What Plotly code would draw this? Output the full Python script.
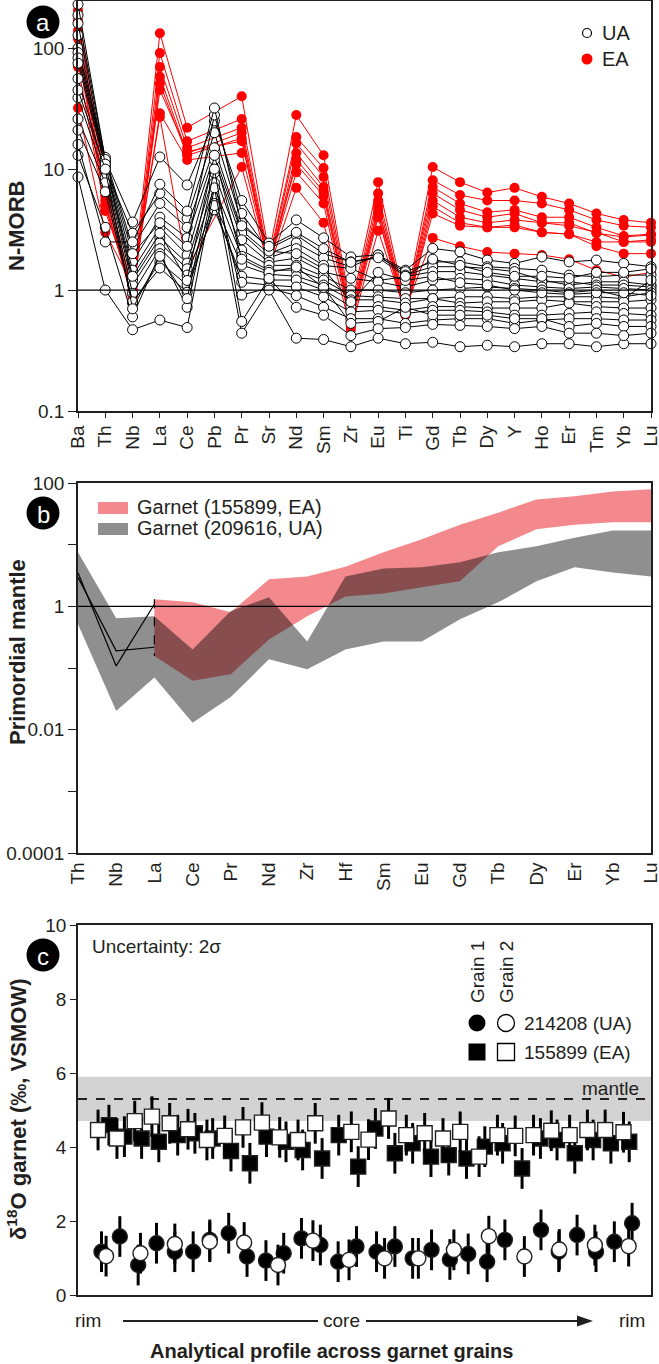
import plotly.graph_objects as go

W, H = 659, 1364
FONT = "Liberation Sans, Arial, sans-serif"

# ---------------- Panel a data (N-MORB normalised) ----------------
elements_a = ['Ba', 'Th', 'Nb', 'La', 'Ce', 'Pb', 'Pr', 'Sr', 'Nd', 'Sm', 'Zr', 'Eu', 'Ti',
              'Gd', 'Tb', 'Dy', 'Y', 'Ho', 'Er', 'Tm', 'Yb', 'Lu']

ea_profiles = [
    [206, 8.0, 1.0, 133, 22, None, 40, 2.0, 28, 13, 0.70, 7.8, 0.75, 10.4, 7.8, 6.4, 7.0, 5.9, 5.2, 4.3, 3.8, 3.6],
    [170, 7.0, 0.9, 91, 17, None, 26, 1.8, 18.4, 10.2, 0.65, 6.3, 0.70, 8.1, 6.1, 5.5, 5.5, 5.2, 4.6, 3.8, 3.4, 3.3],
    [140, 6.0, 0.85, 70, 15, None, 22, 1.7, 16.4, 8.6, 0.60, 5.5, 0.68, 7.1, 5.2, 4.4, 4.6, 4.0, 4.0, 3.3, 2.8, 2.9],
    [120, 5.5, 0.8, 58, 13.5, None, 20, 1.6, 13.6, 7.1, 0.58, 4.9, 0.65, 6.3, 4.6, 4.0, 4.3, 3.6, 3.6, 2.95, 2.75, 2.85],
    [100, 5.0, 0.9, 51, 13, None, 18, 1.55, 12, 6.5, 0.55, 4.3, 0.63, 5.5, 4.0, 3.6, 3.8, 3.6, 3.4, 3.0, 2.5, 2.5],
    [70, 4.5, 1.0, 29, 11.9, None, 13.6, 1.6, 9.4, 5.2, 0.50, 4.0, 0.62, 4.9, 3.6, 3.3, 3.45, 3.0, 2.9, 2.5, 2.5, 2.6],
    [32, 3.0, 1.1, 27, 1.5, None, 10.4, 1.5, 7.0, 3.6, 0.47, 3.1, 0.65, 4.3, 3.4, 3.3, 3.3, 3.0, 2.9, 2.3, 2.0, 2.0],
    [90, 5.0, 0.95, 45, 14, None, 17, 1.7, 11, 6.0, 0.55, 4.6, 0.70, 2.7, 2.3, 2.06, 2.0, 1.95, 1.8, 1.46, 1.28, 1.4],
]

ua_profiles = [
    [188, 12, 3.65, 12.6, 7.4, 25, 5.5, 2.45, 3.8, 2.7, 1.88, 1.95, 1.46, 2.21, 2.07, 1.77, 1.66, 1.88, 1.71, 1.77, 1.66, 1.56],
    [128, 10.2, 2.95, 6.3, 3.9, 20, 3.6, 2.2, 2.85, 2.0, 1.71, 1.88, 1.42, 1.71, 1.71, 1.56, 1.51, 1.46, 1.33, 1.29, 1.33, 1.33],
    [100, 12.5, 2.27, 5.2, 3.3, 15, 3.1, 2.0, 2.45, 1.84, 1.56, 1.95, 1.33, 1.56, 1.56, 1.51, 1.42, 1.21, 1.10, 1.17, 1.17, 1.10],
    [92, 11.5, 1.7, 4.0, 2.7, 13, 2.95, 1.85, 2.2, 1.6, 1.51, 1.2, 1.29, 1.42, 1.42, 1.33, 1.25, 1.17, 1.17, 1.10, 1.10, 1.06],
    [83, 11, 1.46, 3.3, 1.95, 11.9, 2.6, 1.7, 1.84, 1.41, 1.25, 1.17, 1.06, 1.21, 1.25, 1.21, 1.10, 1.06, 1.03, 1.06, 1.03, 1.0],
    [75, 10.5, 1.21, 2.7, 1.67, 9.3, 2.14, 1.6, 1.6, 1.3, 1.0, 1.0, 0.95, 1.0, 1.03, 1.06, 1.03, 1.0, 0.95, 1.0, 0.88, 0.95],
    [56, 9.5, 1.1, 2.45, 1.5, 7.1, 1.9, 1.46, 1.46, 1.21, 0.90, 0.88, 0.85, 0.85, 0.88, 0.88, 0.85, 0.88, 0.88, 0.88, 0.85, 1.21],
    [39, 8.5, 0.94, 2.2, 1.33, 5.2, 1.61, 1.35, 1.3, 1.1, 0.83, 0.83, 0.78, 0.85, 0.78, 0.80, 0.80, 0.83, 0.80, 0.80, 0.80, 0.83],
    [26, 7.7, 0.78, 1.7, 1.1, 4.6, 1.3, 1.21, 1.21, 1.0, 0.73, 0.73, 0.68, 0.73, 0.73, 0.71, 0.71, 0.71, 0.78, 0.73, 0.71, 0.71],
    [21, 6.5, 0.80, 1.52, 0.96, 5.0, 1.16, 1.1, 1.06, 0.88, 0.66, 0.68, 0.64, 0.68, 0.68, 0.66, 0.62, 0.62, 0.64, 0.66, 0.64, 0.62],
    [13, 3.3, 0.60, 2.0, 0.72, 7.7, 0.91, 1.04, 0.90, 0.72, 0.58, 0.58, 0.53, 0.565, 0.58, 0.58, 0.53, 0.565, 0.58, 0.58, 0.565, 0.565],
    [8.6, 1.0, 0.47, 0.565, 0.49, 7.0, 0.44, 1.0, 0.40, 0.39, 0.34, 0.40, 0.36, 0.37, 0.34, 0.35, 0.34, 0.36, 0.36, 0.34, 0.36, 0.36],
    [230, 12, 2.0, 3.6, 2.3, 28, 4.3, 2.1, 2.0, 1.5, 0.80, 1.4, 1.2, 1.3, 1.15, 1.1, 1.0, 0.95, 0.92, 0.95, 0.95, 0.90],
    [160, 11, 1.3, 2.95, 1.2, 13, 1.8, 1.4, 1.55, 1.05, 0.53, 0.55, 0.72, 0.62, 0.62, 0.62, 0.58, 0.58, 0.50, 0.53, 0.50, 0.50],
    [45, 10, 0.70, 1.9, 0.85, 10, 0.55, 1.25, 0.72, 0.62, 0.42, 0.48, 0.49, 0.52, 0.51, 0.50, 0.48, 0.50, 0.44, 0.44, 0.42, 0.44],
    [16, 2.5, 2.5, 7.5, 4.5, 32, 3.4, 2.3, 3.0, 2.2, 1.7, 1.85, 1.3, 1.8, 1.6, 1.4, 1.3, 1.3, 1.25, 1.4, 1.4, 1.5],
]

# ---------------- Panel b data (primordial-mantle normalised garnet) ----------------
elements_b = ['Th', 'Nb', 'La', 'Ce', 'Pr', 'Nd', 'Zr', 'Hf', 'Sm', 'Eu', 'Gd', 'Tb', 'Dy', 'Er', 'Yb', 'Lu']
ea_upper = [None, None, 1.30, 1.16, 0.80, 2.74, 3.06, 4.4, 7.5, 12.2, 21, 33, 54, 61, 73, 79]
ea_lower = [None, None, 0.157, 0.062, 0.079, 0.29, 0.69, 1.45, 1.62, 2.03, 2.54, 9.4, 17.7, 21, 23, 23]
ua_upper = [7.5, 0.64, 0.69, 0.20, 0.84, 1.40, 0.27, 3.06, 4.1, 4.3, 5.2, 7.5, 9.4, 13, 17, 17]
ua_lower = [0.51, 0.02, 0.07, 0.013, 0.034, 0.138, 0.095, 0.20, 0.27, 0.27, 0.62, 1.16, 2.54, 4.3, 3.55, 3.06]
whole_rock_1 = [3.5, 0.108, 1.08]
whole_rock_2 = [2.95, 0.19, 0.217]

# ---------------- Panel c data (delta18O profiles, position in % of profile) ----------------
ea_g1_pos = [5.4, 8.1, 11.1, 14.1, 17.4, 20.4, 23.5, 26.7, 30.0, 32.9, 36.3, 39.2, 42.6, 45.5, 48.9,
             51.9, 55.3, 58.4, 61.6, 64.7, 67.8, 71.0, 74.1, 77.5, 80.7, 83.6, 86.7, 89.9, 93.0, 96.2]
ea_g1_d18o = [4.59, 4.28, 4.23, 4.14, 4.32, 4.37, 4.23, 3.89, 3.56, 4.28, 4.14, 3.92, 3.69, 4.32, 3.47,
              4.50, 3.83, 4.10, 3.74, 3.78, 3.69, 4.01, 4.10, 3.42, 4.23, 4.19, 3.83, 4.19, 4.10, 4.14]
ea_g2_pos = [3.5, 6.8, 9.9, 12.9, 16.0, 19.2, 22.5, 25.6, 28.8, 32.1, 35.2, 38.4, 41.4, 47.7, 50.7,
             54.2, 57.3, 60.5, 63.7, 66.7, 70.0, 73.2, 76.3, 79.5, 82.6, 85.8, 88.9, 92.0, 95.2]
ea_g2_d18o = [4.46, 4.23, 4.70, 4.82, 4.64, 4.48, 4.19, 4.30, 4.53, 4.66, 4.26, 4.19, 4.64, 4.41, 4.20,
              4.77, 4.32, 4.37, 4.23, 4.41, 3.74, 4.32, 4.30, 4.32, 4.44, 4.32, 4.46, 4.46, 4.40]
ua_g1_pos = [4.1, 7.3, 10.5, 13.7, 16.9, 20.1, 23.0, 26.3, 29.5, 32.8, 35.9, 39.0, 42.3, 45.4, 48.6,
             52.1, 55.3, 58.4, 61.7, 64.9, 68.1, 71.4, 74.5, 80.8, 83.9, 87.1, 90.4, 93.6, 96.7]
ua_g1_d18o = [1.17, 1.58, 0.81, 1.40, 1.17, 1.17, 1.49, 1.67, 1.04, 0.93, 1.13, 1.53, 1.35, 0.90, 1.31,
              1.17, 1.31, 0.99, 1.22, 0.96, 1.11, 0.90, 1.49, 1.76, 1.17, 1.62, 1.17, 1.44, 1.94]
ua_g2_pos = [4.9, 10.9, 16.9, 23.0, 29.0, 34.9, 41.0, 47.3, 53.5, 59.4, 65.6, 71.7, 77.9, 84.0, 90.2, 96.1]
ua_g2_d18o = [1.05, 1.13, 1.38, 1.44, 1.42, 0.81, 1.47, 0.95, 0.99, 0.99, 1.22, 1.59, 1.04, 1.23, 1.35, 1.32]
err_2sigma = 0.55
mantle_range = [4.7, 5.9]
mantle_mean = 5.3


def px(x):
    return x / W


def py(y):
    return min(1.0, max(0.0, 1 - y / H))


fig = go.Figure()

# ---- panel a ----
xa = list(range(len(elements_a)))
for prof in ea_profiles:
    fig.add_trace(go.Scatter(x=xa, y=prof, mode='lines+markers', connectgaps=True,
                             line=dict(color='#ff0000', width=1),
                             marker=dict(color='#ff0000', size=10),
                             cliponaxis=False, showlegend=False, xaxis='x', yaxis='y'))
for prof in ua_profiles:
    fig.add_trace(go.Scatter(x=xa, y=prof, mode='lines+markers', connectgaps=True,
                             line=dict(color='black', width=1),
                             marker=dict(color='white', size=10, line=dict(color='black', width=1)),
                             cliponaxis=False, showlegend=False, xaxis='x', yaxis='y'))
fig.add_trace(go.Scatter(x=[xa[0], xa[-1]], y=[1, 1], mode='lines', line=dict(color='black', width=1.2),
                         showlegend=False, xaxis='x', yaxis='y'))

# ---- panel b ----
xb = list(range(len(elements_b)))


def band(upper, lower):
    xs, ys = [], []
    for x, v in zip(xb, upper):
        if v is not None:
            xs.append(x); ys.append(v)
    for x, v in reversed(list(zip(xb, lower))):
        if v is not None:
            xs.append(x); ys.append(v)
    return xs, ys


bx, by = band(ea_upper, ea_lower)
fig.add_trace(go.Scatter(x=bx, y=by, fill='toself', fillcolor='rgb(243,137,140)', mode='lines',
                         line=dict(width=0), showlegend=False, xaxis='x2', yaxis='y2'))
bx, by = band(ua_upper, ua_lower)
fig.add_trace(go.Scatter(x=bx, y=by, fill='toself', fillcolor='rgba(0,0,0,0.44)', mode='lines',
                         line=dict(width=0), showlegend=False, xaxis='x2', yaxis='y2'))
fig.add_trace(go.Scatter(x=xb[:3], y=whole_rock_1, mode='lines', line=dict(color='black', width=1.2),
                         showlegend=False, xaxis='x2', yaxis='y2'))
fig.add_trace(go.Scatter(x=xb[:3], y=whole_rock_2, mode='lines', line=dict(color='black', width=1.2),
                         showlegend=False, xaxis='x2', yaxis='y2'))
fig.add_trace(go.Scatter(x=[xb[2], xb[2]], y=[ea_upper[2], ea_lower[2]], mode='lines',
                         line=dict(color='black', width=1.2, dash='dash'),
                         showlegend=False, xaxis='x2', yaxis='y2'))
fig.add_trace(go.Scatter(x=[xb[0], xb[-1]], y=[1, 1], mode='lines', line=dict(color='black', width=1.2),
                         showlegend=False, xaxis='x2', yaxis='y2'))


# ---- panel c ----
def pts(pos, val, symbol, fill):
    return go.Scatter(x=pos, y=val, mode='markers',
                      error_y=dict(type='constant', value=err_2sigma, color='black', thickness=3, width=0),
                      marker=dict(symbol=symbol, size=15, color=fill, line=dict(color='#231f20', width=1.4)),
                      showlegend=False, xaxis='x3', yaxis='y3', cliponaxis=False)


fig.add_trace(pts(ea_g1_pos, ea_g1_d18o, 'square', 'black'))
fig.add_trace(pts(ea_g2_pos, ea_g2_d18o, 'square', 'white'))
fig.add_trace(pts(ua_g1_pos, ua_g1_d18o, 'circle', 'black'))
fig.add_trace(pts(ua_g2_pos, ua_g2_d18o, 'circle', 'white'))

axis_common = dict(showline=True, mirror=True, linecolor='#231f20', linewidth=1.6, showgrid=False,
                   zeroline=False, tickfont=dict(family=FONT, size=19, color='#231f20'),
                   tickcolor='#231f20', automargin=False, ticklabeloverflow='allow')

fig.update_layout(
    width=W, height=H, margin=dict(l=0, r=0, t=0, b=0),
    paper_bgcolor='white', plot_bgcolor='white', showlegend=False,
    font=dict(family=FONT, color='#231f20'),
    xaxis=dict(domain=[px(78), px(651)], range=[0, 21], tickvals=xa, ticktext=elements_a,
               tickangle=-90, ticks='outside', ticklen=5, anchor='y', **axis_common),
    yaxis=dict(domain=[py(411), py(1)], type='log', range=[-1, 2.39],
               tickvals=[0.1, 1, 10, 100], ticktext=['0.1', '1', '10', '100'],
               ticks='outside', ticklen=8, anchor='x', **axis_common),
    xaxis2=dict(domain=[px(78), px(651)], range=[0, 15], tickvals=xb, ticktext=elements_b,
                tickangle=-90, ticks='', anchor='y2', **axis_common),
    yaxis2=dict(domain=[py(853), py(483)], type='log', range=[-4, 2],
                tickvals=[1e-4, 1e-2, 1, 100], ticktext=['0.0001', '0.01', '1', '100'],
                ticks='outside', ticklen=8, anchor='x2',
                minor=dict(tickvals=[1e-3, 1e-1, 10], ticks='outside', ticklen=8, tickcolor='#231f20'),
                **axis_common),
    xaxis3=dict(domain=[px(78), px(651)], range=[0, 100], showticklabels=False, ticks='',
                anchor='y3', **axis_common),
    yaxis3=dict(domain=[py(1295), py(925)], range=[0, 10], tickvals=[0, 2, 4, 6, 8, 10],
                ticks='outside', ticklen=6, anchor='x3', **axis_common),
)

shapes = []
annos = []

# mantle band and mean
shapes.append(dict(type='rect', xref='x3 domain', yref='y3', x0=0, x1=1, y0=mantle_range[0],
                   y1=mantle_range[1], fillcolor='rgb(211,211,211)', line=dict(width=0), layer='below'))
shapes.append(dict(type='line', xref='x3 domain', yref='y3', x0=0, x1=1, y0=mantle_mean, y1=mantle_mean,
                   line=dict(color='#231f20', width=2, dash='dash'), layer='below'))
annos.append(dict(text='mantle', xref='paper', yref='paper', x=px(641), y=py(1088), xanchor='right',
                  yanchor='middle', showarrow=False, font=dict(size=19, family=FONT)))

# panel labels
for letter, (cx, cy) in zip('abc', [(43, 22), (43, 513), (43, 955)]):
    r = 16.5
    shapes.append(dict(type='circle', xref='paper', yref='paper', x0=px(cx - r), x1=px(cx + r),
                       y0=py(cy + r), y1=py(cy - r), fillcolor='black', line=dict(width=0)))
    annos.append(dict(text=letter, xref='paper', yref='paper', x=px(cx), y=py(cy + 1), showarrow=False,
                      font=dict(size=24, color='white', family=FONT), xanchor='center', yanchor='middle'))

# axis titles
annos.append(dict(text='<b>N-MORB</b>', xref='paper', yref='paper', x=px(17), y=py(226), textangle=-90,
                  showarrow=False, font=dict(size=22, family=FONT), xanchor='center', yanchor='middle'))
annos.append(dict(text='<b>Primordial mantle</b>', xref='paper', yref='paper', x=px(17), y=py(652),
                  textangle=-90, showarrow=False, font=dict(size=22, family=FONT),
                  xanchor='center', yanchor='middle'))
annos.append(dict(text='<b>δ<sup>18</sup>O garnet (‰, VSMOW)</b>', xref='paper', yref='paper', x=px(17),
                  y=py(1110), textangle=-90, showarrow=False, font=dict(size=22, family=FONT),
                  xanchor='center', yanchor='middle'))
annos.append(dict(text='<b>Analytical profile across garnet grains</b>', xref='paper', yref='paper',
                  x=px(331), y=py(1351), showarrow=False, font=dict(size=20, family=FONT),
                  xanchor='center', yanchor='middle'))

# panel a legend
shapes.append(dict(type='circle', xref='paper', yref='paper', x0=px(582.5), x1=px(591.5), y0=py(37.5),
                   y1=py(28.5), fillcolor='white', line=dict(color='black', width=1.2)))
shapes.append(dict(type='circle', xref='paper', yref='paper', x0=px(581.5), x1=px(592.5), y0=py(64.5),
                   y1=py(53.5), fillcolor='#ff0000', line=dict(width=0)))
annos.append(dict(text='UA', xref='paper', yref='paper', x=px(600), y=py(33), xanchor='left',
                  yanchor='middle', showarrow=False, font=dict(size=20, family=FONT)))
annos.append(dict(text='EA', xref='paper', yref='paper', x=px(600), y=py(59), xanchor='left',
                  yanchor='middle', showarrow=False, font=dict(size=20, family=FONT)))

# panel b legend
shapes.append(dict(type='rect', xref='paper', yref='paper', x0=px(98), x1=px(128), y0=py(514), y1=py(502),
                   fillcolor='rgb(243,137,140)', line=dict(width=0)))
shapes.append(dict(type='rect', xref='paper', yref='paper', x0=px(98), x1=px(128), y0=py(535), y1=py(523),
                   fillcolor='rgb(143,143,143)', line=dict(width=0)))
annos.append(dict(text='Garnet (155899, EA)', xref='paper', yref='paper', x=px(135), y=py(507),
                  xanchor='left', yanchor='middle', showarrow=False, font=dict(size=20, family=FONT)))
annos.append(dict(text='Garnet (209616, UA)', xref='paper', yref='paper', x=px(135), y=py(528),
                  xanchor='left', yanchor='middle', showarrow=False, font=dict(size=20, family=FONT)))

# panel c legend
annos.append(dict(text='Uncertainty: 2σ', xref='paper', yref='paper', x=px(90), y=py(946),
                  xanchor='left', yanchor='middle', showarrow=False, font=dict(size=19, family=FONT)))
for txt, cx in [('Grain 1', 477), ('Grain 2', 506)]:
    annos.append(dict(text=txt, xref='paper', yref='paper', x=px(cx), y=py(972), textangle=-90,
                      xanchor='center', yanchor='middle', showarrow=False, font=dict(size=19, family=FONT)))
r = 8.5
shapes.append(dict(type='circle', xref='paper', yref='paper', x0=px(477 - r), x1=px(477 + r),
                   y0=py(1023 + r), y1=py(1023 - r), fillcolor='black', line=dict(width=0)))
shapes.append(dict(type='circle', xref='paper', yref='paper', x0=px(506 - r), x1=px(506 + r),
                   y0=py(1023 + r), y1=py(1023 - r), fillcolor='white', line=dict(color='black', width=1.3)))
shapes.append(dict(type='rect', xref='paper', yref='paper', x0=px(477 - r), x1=px(477 + r),
                   y0=py(1052 + r), y1=py(1052 - r), fillcolor='black', line=dict(width=0)))
shapes.append(dict(type='rect', xref='paper', yref='paper', x0=px(506 - r), x1=px(506 + r),
                   y0=py(1052 + r), y1=py(1052 - r), fillcolor='white', line=dict(color='black', width=1.3)))
annos.append(dict(text='214208 (UA)', xref='paper', yref='paper', x=px(522), y=py(1023), xanchor='left',
                  yanchor='middle', showarrow=False, font=dict(size=19, family=FONT)))
annos.append(dict(text='155899 (EA)', xref='paper', yref='paper', x=px(522), y=py(1052), xanchor='left',
                  yanchor='middle', showarrow=False, font=dict(size=19, family=FONT)))

# rim - core - rim
annos.append(dict(text='rim', xref='paper', yref='paper', x=px(88), y=py(1320), showarrow=False,
                  font=dict(size=19, family=FONT), xanchor='center', yanchor='middle'))
annos.append(dict(text='core', xref='paper', yref='paper', x=px(341), y=py(1320), showarrow=False,
                  font=dict(size=19, family=FONT), xanchor='center', yanchor='middle'))
annos.append(dict(text='rim', xref='paper', yref='paper', x=px(632), y=py(1320), showarrow=False,
                  font=dict(size=19, family=FONT), xanchor='center', yanchor='middle'))
shapes.append(dict(type='line', xref='paper', yref='paper', x0=px(123), x1=px(318), y0=py(1321), y1=py(1321),
                   line=dict(color='#231f20', width=2)))
shapes.append(dict(type='line', xref='paper', yref='paper', x0=px(366), x1=px(580), y0=py(1321), y1=py(1321),
                   line=dict(color='#231f20', width=2)))
shapes.append(dict(type='path', xref='paper', yref='paper',
                   path=f"M {px(577)},{py(1315.5)} L {px(593)},{py(1321)} L {px(577)},{py(1326.5)} Z",
                   fillcolor='#231f20', line=dict(width=0)))

fig.update_layout(shapes=shapes, annotations=annos)
# remove the browser's default 8 px body margin so the 659x1364 figure fills the window exactly
fig.write_html("out.html", config={'displayModeBar': False},
               post_script="document.body.style.margin='0';document.body.style.overflow='hidden';")
